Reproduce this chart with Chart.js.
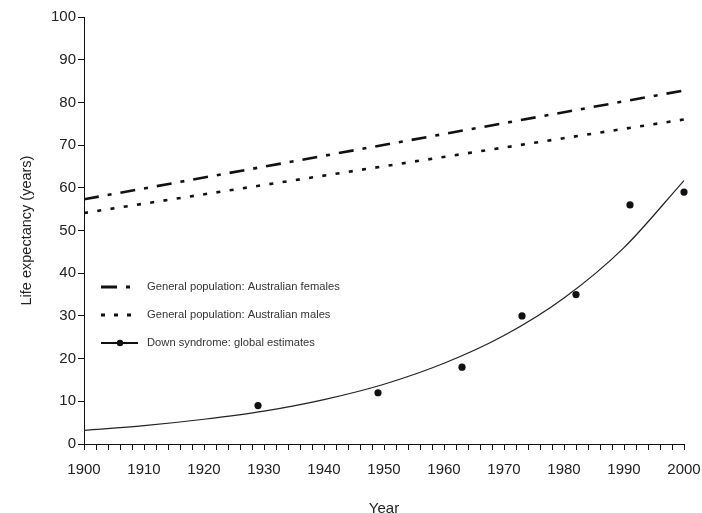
<!DOCTYPE html>
<html>
<head>
<meta charset="utf-8">
<script src="https://cdn.jsdelivr.net/npm/chart.js@4/dist/chart.umd.min.js"></script>
<style>
  html, body { margin: 0; padding: 0; background: #fff; }
  #wrap { width: 702px; height: 513px; position: relative; }
</style>
</head>
<body>
<div id="wrap"><canvas id="c"></canvas></div>
<script>
// General population life expectancy (straight trend lines)
const popYears = [1900, 2000];
const femaleLE = [57.3, 82.8];
const maleLE = [54.1, 76.0];

// Fitted curve for Down syndrome life expectancy
const fitYears = [1900, 1910, 1920, 1930, 1940, 1950, 1960, 1970, 1980, 1990, 2000];
const fitLE = [3.2, 4.3, 5.8, 7.7, 10.4, 14.0, 18.9, 25.4, 34.2, 46.0, 61.7];

// Global estimates for Down syndrome
const estYears = [1929, 1949, 1963, 1973, 1982, 1991, 2000];
const estLE = [9, 12, 18, 30, 35, 56, 59];

// Axis ticks
const yTicks = [0, 10, 20, 30, 40, 50, 60, 70, 80, 90, 100];
const xLabelYears = [1900, 1910, 1920, 1930, 1940, 1950, 1960, 1970, 1980, 1990, 2000];

const legendLabels = [
  'General population: Australian females',
  'General population: Australian males',
  'Down syndrome: global estimates'
];

const toPoints = (xs, ys) => xs.map((x, i) => ({ x: x, y: ys[i] }));

const FONT = "'Liberation Sans', Arial, Helvetica, sans-serif";
const INK = '#111';

// Draws the key inside the plot area
const insetLegend = {
  id: 'insetLegend',
  afterDatasetsDraw(chart) {
    const ctx = chart.ctx;
    const x0 = chart.chartArea.left + 17;
    const rows = [287, 315, 343];
    const textX = x0 + 46;
    ctx.save();
    ctx.strokeStyle = INK;
    ctx.lineCap = 'butt';
    // females: long-short dash
    ctx.lineWidth = 3;
    ctx.setLineDash([]);
    ctx.beginPath();
    ctx.moveTo(x0, rows[0]); ctx.lineTo(x0 + 16, rows[0]);
    ctx.moveTo(x0 + 25, rows[0]); ctx.lineTo(x0 + 29, rows[0]);
    ctx.stroke();
    // males: short dashes
    ctx.beginPath();
    [0, 13, 26].forEach(d => { ctx.moveTo(x0 + d, rows[1]); ctx.lineTo(x0 + d + 4, rows[1]); });
    ctx.stroke();
    // Down syndrome: line with marker
    ctx.lineWidth = 2;
    ctx.beginPath();
    ctx.moveTo(x0, rows[2]); ctx.lineTo(x0 + 37, rows[2]);
    ctx.stroke();
    ctx.fillStyle = INK;
    ctx.beginPath();
    ctx.arc(x0 + 19, rows[2], 3.2, 0, Math.PI * 2);
    ctx.fill();
    // texts
    ctx.fillStyle = '#333';
    ctx.font = '11.2px ' + FONT;
    ctx.textBaseline = 'middle';
    legendLabels.forEach((t, i) => ctx.fillText(t, textX, rows[i]));
    ctx.restore();
  }
};

new Chart(document.getElementById('c'), {
  type: 'line',
  data: {
    datasets: [
      {
        label: legendLabels[0],
        data: toPoints(popYears, femaleLE),
        borderColor: INK,
        borderWidth: 2.6,
        borderDash: [15, 9, 4, 9],
        pointRadius: 0,
        fill: false
      },
      {
        label: legendLabels[1],
        data: toPoints(popYears, maleLE),
        borderColor: INK,
        borderWidth: 2.6,
        borderDash: [4, 9.4],
        pointRadius: 0,
        fill: false
      },
      {
        label: legendLabels[2],
        data: toPoints(fitYears, fitLE),
        borderColor: '#222',
        borderWidth: 1.2,
        cubicInterpolationMode: 'monotone',
        pointRadius: 0,
        fill: false
      },
      {
        label: legendLabels[2],
        data: toPoints(estYears, estLE),
        showLine: false,
        clip: false,
        pointRadius: 3.6,
        pointBackgroundColor: INK,
        pointBorderWidth: 0,
        borderColor: INK
      }
    ]
  },
  options: {
    responsive: true,
    maintainAspectRatio: false,
    animation: false,
    events: [],
    layout: { padding: { top: 17, right: 18, left: 0, bottom: 0 } },
    plugins: {
      legend: { display: false },
      tooltip: { enabled: false }
    },
    scales: {
      x: {
        type: 'linear',
        min: 1900,
        max: 2000,
        afterFit(scale) {
          scale.height = 69;
          scale.paddingLeft = 0;
          scale.paddingRight = 0;
        },
        border: { color: INK, width: 1 },
        grid: { drawOnChartArea: false, drawTicks: true, tickLength: 6, color: INK, tickWidth: 1 },
        ticks: {
          stepSize: 2,
          autoSkip: false,
          maxRotation: 0,
          padding: 11,
          color: '#222',
          font: { family: FONT, size: 15 },
          callback: v => (xLabelYears.includes(v) ? String(v) : '')
        },
        title: {
          display: true,
          text: 'Year',
          color: '#222',
          font: { family: FONT, size: 15 },
          padding: { top: 0, bottom: -5 }
        }
      },
      y: {
        type: 'linear',
        min: 0,
        max: 100,
        afterFit(scale) { scale.width = 84; },
        afterBuildTicks(scale) { scale.ticks = yTicks.map(v => ({ value: v })); },
        border: { color: INK, width: 1 },
        grid: { drawOnChartArea: false, drawTicks: true, tickLength: 6, color: INK },
        ticks: {
          padding: 2,
          color: '#222',
          font: { family: FONT, size: 15 }
        },
        title: {
          display: true,
          text: 'Life expectancy (years)',
          color: '#222',
          font: { family: FONT, size: 14.5 },
          padding: { top: 18, bottom: 0 }
        }
      }
    }
  },
  plugins: [insetLegend]
});
</script>
</body>
</html>
